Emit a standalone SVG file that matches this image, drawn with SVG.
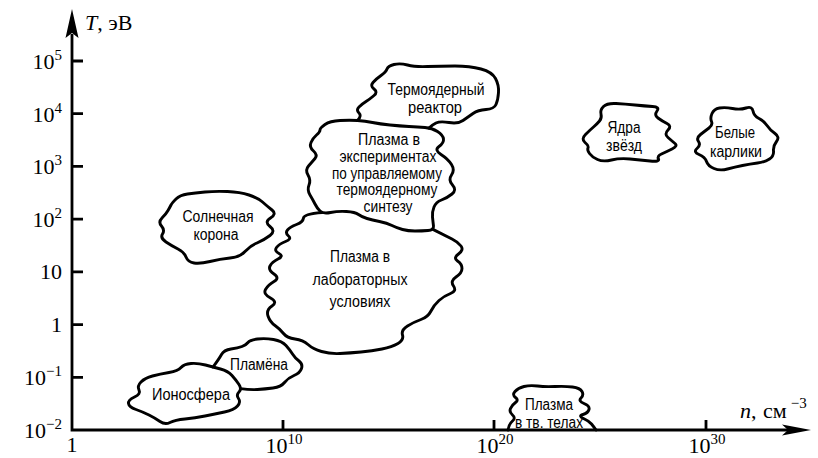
<svg xmlns="http://www.w3.org/2000/svg" width="818" height="458" viewBox="0 0 818 458">
<style>
.blob{fill:none;stroke:#000;stroke-width:2.9;stroke-linejoin:round;stroke-linecap:round}
.ax{fill:none;stroke:#000;stroke-width:2.8}
.head{fill:#000;stroke:none}
.lbl{font-family:"Liberation Sans",Arial,sans-serif;font-size:16px;text-anchor:middle;fill:#000}
.tk{font-family:"Liberation Serif","Times New Roman",serif;font-size:22px;fill:#000}
.sup{font-size:15px}
</style>
<rect width="818" height="458" fill="#fff"/>
<g id="axes">
<path class="ax" d="M72 34 V430 H788"/>
<path class="head" d="M72 9 L78.5 38 L72 33 L65.5 38 Z"/>
<path class="head" d="M811 430 L782 424.5 L788 430 L782 435.5 Z"/>
<path class="ax" d="M72 61 H83 M72 113.7 H83 M72 166.4 H83 M72 219.1 H83 M72 271.9 H83 M72 324.6 H83 M72 377.3 H83 M283 430 V420 M494 430 V420 M706 430 V420"/>
<g class="tk" text-anchor="end">
<text x="62" y="69">10<tspan class="sup" dy="-9">5</tspan></text>
<text x="62" y="121.5">10<tspan class="sup" dy="-9">4</tspan></text>
<text x="62" y="174">10<tspan class="sup" dy="-9">3</tspan></text>
<text x="62" y="227">10<tspan class="sup" dy="-9">2</tspan></text>
<text x="62" y="279">10</text>
<text x="62" y="332">1</text>
<text x="62" y="385">10<tspan class="sup" dy="-9">−1</tspan></text>
<text x="62" y="438">10<tspan class="sup" dy="-9">−2</tspan></text>
</g>
<g class="tk" text-anchor="middle">
<text x="72" y="452">1</text>
<text x="284" y="453">10<tspan class="sup" dy="-9">10</tspan></text>
<text x="495" y="453">10<tspan class="sup" dy="-9">20</tspan></text>
<text x="707" y="453">10<tspan class="sup" dy="-9">30</tspan></text>
</g>
<text class="tk" x="85" y="30" font-size="21"><tspan font-style="italic">T</tspan>, эВ</text>
<text class="tk" x="740" y="418" font-size="21"><tspan font-style="italic">n</tspan>,<tspan x="763">см</tspan><tspan class="sup" dx="4" dy="-10">−3</tspan></text>
</g>
<g id="corona">
<path class="blob" d="M 176 199 Q 180 195 187.5 194 Q 195 193 205 192 Q 215 191 227.5 191.5 Q 240 192 249 195 Q 258 198 262.5 202 Q 267 206 272 210 Q 277 214 270.5 218 Q 264 222 270 226.5 Q 276 231 270 235.5 Q 264 240 257 243 Q 250 246 245 251.5 Q 240 257 230 258 Q 220 259 210 261.5 Q 200 264 194 263 Q 188 262 186 257 Q 184 252 178 249 Q 172 246 166 242 Q 160 238 162.5 234 Q 165 230 161.5 226 Q 158 222 162 218 Q 166 214 168 210.5 Q 170 207 171 205 Q 172 203 176 199 Z"/>
<text class="lbl" x="218" y="222" textLength="71" lengthAdjust="spacingAndGlyphs">Солнечная</text>
<text class="lbl" x="216" y="240" textLength="45" lengthAdjust="spacingAndGlyphs">корона</text>
</g>
<g id="reactor">
<path class="blob" d="M 357.5 120.5 Q 362 116 359 113 Q 356 110 359 107 Q 362 104 366 101.5 Q 370 99 374 95.5 Q 378 92 374 89 Q 370 86 373 82.5 Q 376 79 381 75.5 Q 386 72 387 69 Q 388 66 394 64.5 Q 400 63 407.5 65 Q 415 67 427.5 66.5 Q 440 66 455 66 Q 470 66 481 69 Q 492 72 495.5 78.5 Q 499 85 498.5 92.5 Q 498 100 496 104.5 Q 494 109 486 109.5 Q 478 110 473 113.5 Q 468 117 463 120.5 Q 458 124 449 122.5 Q 440 121 436 123 Q 432 125 429 128"/>
<text class="lbl" x="436" y="95" textLength="97" lengthAdjust="spacingAndGlyphs">Термоядерный</text>
<text class="lbl" x="435" y="113" textLength="54" lengthAdjust="spacingAndGlyphs">реактор</text>
</g>
<g id="experiments">
<path class="blob" d="M 325 124.5 Q 330 121 340 120.5 Q 350 120 357.5 120.5 Q 365 121 372.5 122.5 Q 380 124 390 125 Q 400 126 409 126.5 Q 418 127 425 127.5 Q 432 128 437.5 131.5 Q 443 135 443.5 139 Q 444 143 439 146.5 Q 434 150 441 154.5 Q 448 159 451.5 164.5 Q 455 170 451.5 175 Q 448 180 452.5 185 Q 457 190 452 194 Q 447 198 441.5 200 Q 436 202 434 207 Q 432 212 432.5 217 Q 433 222 433.5 226 Q 434 230 428 230.5 Q 422 231 415 231 Q 408 231 402.5 229.5 Q 397 228 392 225.5 Q 387 223 379.5 221.5 Q 372 220 367 218.5 Q 362 217 358.5 214.5 Q 355 212 346.5 211.5 Q 338 211 330.5 212.5 Q 323 214 320 211 Q 317 208 315 204 Q 313 200 310 195 Q 307 190 309 185 Q 311 180 308 175 Q 305 170 308.5 166 Q 312 162 315 158.5 Q 318 155 313.5 151 Q 309 147 311 142.5 Q 313 138 316.5 135 Q 320 132 320 130 Q 320 128 325 124.5 Z"/>
<text class="lbl" x="389" y="145" textLength="62" lengthAdjust="spacingAndGlyphs">Плазма в</text>
<text class="lbl" x="388" y="162" textLength="97" lengthAdjust="spacingAndGlyphs">экспериментах</text>
<text class="lbl" x="387" y="178.5" textLength="110" lengthAdjust="spacingAndGlyphs">по управляемому</text>
<text class="lbl" x="387" y="195" textLength="101" lengthAdjust="spacingAndGlyphs">термоядерному</text>
<text class="lbl" x="388" y="212" textLength="49" lengthAdjust="spacingAndGlyphs">синтезу</text>
</g>
<g id="laboratory">
<path class="blob" d="M 322 212.5 Q 304 214 303.5 218 Q 303 222 296.5 224.5 Q 290 227 287.5 230 Q 285 233 288.5 236 Q 292 239 285.5 241.5 Q 279 244 276.5 247.5 Q 274 251 279 253.5 Q 284 256 278 259 Q 272 262 270 266 Q 268 270 274 274 Q 280 278 274 281.5 Q 268 285 265.5 289.5 Q 263 294 270.5 298 Q 278 302 272 306 Q 266 310 268 316 Q 270 322 275 325.5 Q 280 329 283.5 333.5 Q 287 338 295 339 Q 303 340 308 344.5 Q 313 349 321.5 351.5 Q 330 354 340 353.5 Q 350 353 361 352 Q 372 351 382 349 Q 392 347 398 343.5 Q 404 340 402.5 335 Q 401 330 407.5 326 Q 414 322 421 319.5 Q 428 317 431 311 Q 434 305 439 300.5 Q 444 296 450.5 293.5 Q 457 291 453.5 286 Q 450 281 456 277 Q 462 273 462 268.5 Q 462 264 457.5 261 Q 453 258 458.5 254 Q 464 250 461 246 Q 458 242 452 239 Q 446 236 432.4 229.1"/>
<text class="lbl" x="360" y="262" textLength="60" lengthAdjust="spacingAndGlyphs">Плазма в</text>
<text class="lbl" x="360" y="285" textLength="95" lengthAdjust="spacingAndGlyphs">лабораторных</text>
<text class="lbl" x="360" y="307" textLength="61" lengthAdjust="spacingAndGlyphs">условиях</text>
</g>
<g id="ionosphere">
<path class="blob" d="M 141 382 Q 145 378 152.5 376 Q 160 374 169 372.5 Q 178 371 181 367.5 Q 184 364 191 363.5 Q 198 363 205.5 365 Q 213 367 220.5 369 Q 228 371 232 375.5 Q 236 380 239 384.5 Q 242 389 239 392 Q 236 395 238.5 398.5 Q 241 402 237.5 406 Q 234 410 224.5 412 Q 215 414 205 416 Q 195 418 185 419 Q 175 420 170 422.5 Q 165 425 160 421.5 Q 155 418 149 415 Q 143 412 136 409.5 Q 129 407 128.5 403.5 Q 128 400 134.5 397 Q 141 394 139 390 Q 137 386 141 382 Z"/>
<text class="lbl" x="191" y="400" textLength="78" lengthAdjust="spacingAndGlyphs">Ионосфера</text>
</g>
<g id="flames">
<path class="blob" d="M 213 367 Q 219 359 221.5 354.5 Q 224 350 231 349 Q 238 348 242 346.5 Q 246 345 248 342.5 Q 250 340 257.5 339 Q 265 338 273.5 339.5 Q 282 341 286 345.5 Q 290 350 292.5 354 Q 295 358 299 361 Q 303 364 301.5 368.5 Q 300 373 294 375.5 Q 288 378 284.5 382.5 Q 281 387 273 388 Q 265 389 257.5 389.5 Q 250 390 240.5 388.6"/>
<text class="lbl" x="259" y="370" textLength="58" lengthAdjust="spacingAndGlyphs">Пламёна</text>
</g>
<g id="star-cores">
<path class="blob" d="M 603.5 106.5 Q 607 103 616 103.5 Q 625 104 635 105 Q 645 106 652.5 106.5 Q 660 107 657 111 Q 654 115 658 118 Q 662 121 667 123.5 Q 672 126 668 130 Q 664 134 668 137.5 Q 672 141 675 143.5 Q 678 146 672 149 Q 666 152 661.5 154 Q 657 156 658.5 159 Q 660 162 650 161 Q 640 160 630 159 Q 620 158 611.5 160 Q 603 162 597.5 159.5 Q 592 157 589.5 153.5 Q 587 150 588 148 Q 589 146 585 142.5 Q 581 139 585.5 134.5 Q 590 130 593.5 127 Q 597 124 599.5 121 Q 602 118 601 114 Q 600 110 603.5 106.5 Z"/>
<text class="lbl" x="624" y="133" textLength="33" lengthAdjust="spacingAndGlyphs">Ядра</text>
<text class="lbl" x="624" y="151" textLength="36" lengthAdjust="spacingAndGlyphs">звёзд</text>
</g>
<g id="white-dwarfs">
<path class="blob" d="M 712 113.5 Q 714 109 719.5 108 Q 725 107 732.5 108.5 Q 740 110 746 108 Q 752 106 753 111 Q 754 116 759 118.5 Q 764 121 767 125.5 Q 770 130 775 133.5 Q 780 137 776.5 141.5 Q 773 146 773.5 151 Q 774 156 769.5 159 Q 765 162 757.5 163 Q 750 164 742.5 165.5 Q 735 167 727.5 169 Q 720 171 714 168.5 Q 708 166 706.5 161.5 Q 705 157 699 154.5 Q 693 152 697 148.5 Q 701 145 698.5 141.5 Q 696 138 700.5 134.5 Q 705 131 709 128 Q 713 125 711.5 121.5 Q 710 118 712 113.5 Z"/>
<text class="lbl" x="735" y="138" textLength="40" lengthAdjust="spacingAndGlyphs">Белые</text>
<text class="lbl" x="736" y="157" textLength="52" lengthAdjust="spacingAndGlyphs">карлики</text>
</g>
<g id="solids">
<path class="blob" d="M 508 430 Q 509 424 512.5 421 Q 516 418 512.5 415 Q 509 412 510.5 408.5 Q 512 405 515.5 402.5 Q 519 400 515.5 397.5 Q 512 395 515 391.5 Q 518 388 524 386.5 Q 530 385 537.5 386 Q 545 387 555 386.5 Q 565 386 572.5 387 Q 580 388 582 391.5 Q 584 395 581 398 Q 578 401 584 403.5 Q 590 406 589 409.5 Q 588 413 583 414.5 Q 578 416 583.5 418.5 Q 589 421 591.5 424 Q 594 427 596 430"/>
<text class="lbl" x="549" y="410" textLength="48" lengthAdjust="spacingAndGlyphs">Плазма</text>
<text class="lbl" x="549" y="428" textLength="68" lengthAdjust="spacingAndGlyphs">в тв. телах</text>
</g>
</svg>
